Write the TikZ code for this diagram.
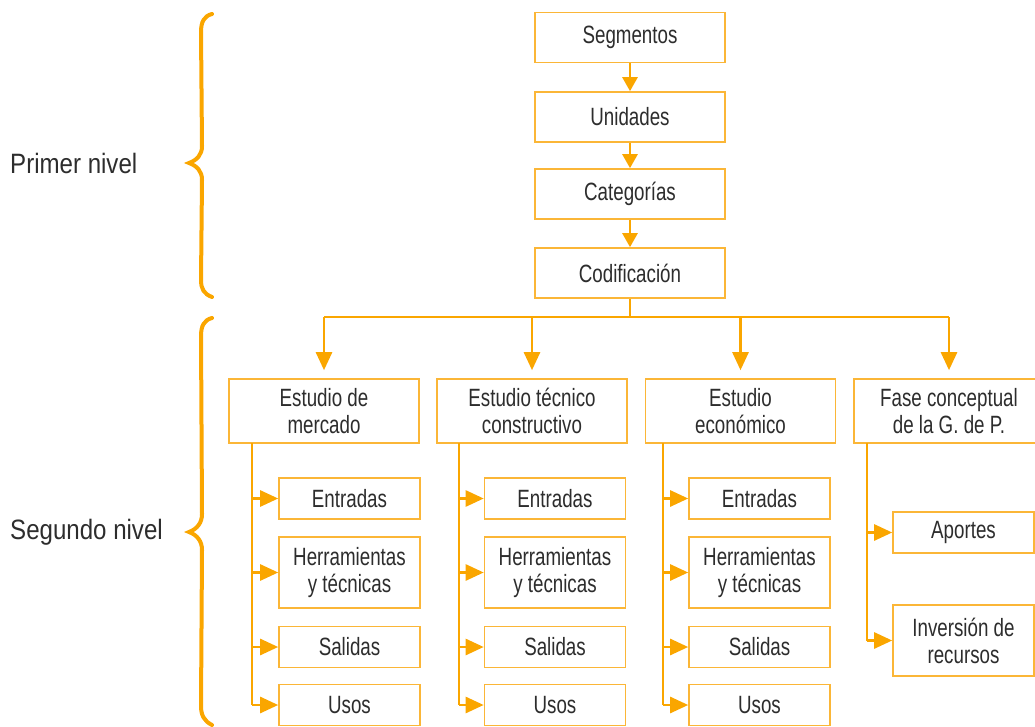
\documentclass[tikz,border=0pt]{standalone}
\usepackage{fontspec}
\setmainfont[FakeStretch=0.75]{Liberation Sans}
\newfontfamily\sidefont[FakeStretch=0.86]{Liberation Sans}
\usetikzlibrary{arrows.meta}
\definecolor{org}{RGB}{250,166,0}
\definecolor{boxorg}{RGB}{251,182,55}
\definecolor{txt}{RGB}{45,45,45}
\begin{document}
\begin{tikzpicture}[x=1pt,y=-1pt,
  basebox/.style={draw=boxorg, line width=1.6pt, fill=white, text=txt, align=center,
    font=\fontsize{25}{27}\selectfont, inner sep=0pt},
  topbox/.style={basebox, minimum width=190pt, minimum height=50pt},
  rowbox/.style={basebox, minimum width=190pt, minimum height=64pt},
  subbox/.style={basebox, minimum width=141pt, minimum height=41pt},
  subtall/.style={basebox, minimum width=141pt, minimum height=71pt},
  conn/.style={draw=org, line width=2.6pt},
  varr/.style={-{Triangle[length=14pt,width=15pt]}},
  darr/.style={-{Triangle[length=18pt,width=16pt]}, shorten >=8pt},
  harr/.style={-{Triangle[length=18pt,width=16pt]}},
  brace/.style={draw=org, line width=4pt, line cap=round},
  side/.style={anchor=west, inner sep=0pt, text=txt, font=\sidefont\fontsize{28}{32}\selectfont}
]
\clip (0,0) rectangle (1035,727);

% side labels
\node[side] (l1) at (10,163) {Primer nivel};
\node[side] (l2) at (10,532) {Segundo nivel};

% braces
\draw[brace] (212,14) .. controls (204,16) and (201,22) .. (201,32) -- (202,146)
  .. controls (202,155) and (197,160) .. (189,163)
  .. controls (197,166) and (202,171) .. (202,180) -- (201,280)
  .. controls (201,289) and (204,294) .. (212,297);
\draw[brace] (212,318) .. controls (204,320) and (201,326) .. (201,336) -- (202,514)
  .. controls (202,523) and (197,529) .. (189,532)
  .. controls (197,535) and (202,541) .. (202,550) -- (201,706)
  .. controls (201,715) and (204,721) .. (212,725);

% top chain
\node[topbox] (seg) at (630,37.5) {Segmentos};
\node[topbox] (uni) at (630,117) {Unidades};
\node[topbox] (cat) at (630,194) {Categorías};
\node[topbox] (cod) at (630,273) {Codificación};
\draw[conn,varr] (seg) -- (uni);
\draw[conn,varr] (uni) -- (cat);
\draw[conn,varr] (cat) -- (cod);

% second row
\node[rowbox] (r1) at (324,411) {Estudio de\\mercado};
\node[rowbox] (r2) at (532,411) {Estudio técnico\\constructivo};
\node[rowbox] (r3) at (740.5,411) {Estudio\\económico};
\node[rowbox] (r4) at (949,411) {Fase conceptual\\de la G. de P.};

\coordinate (bar) at (630,317);
\draw[conn] (cod.south) -- (bar);
\draw[conn] (r1.north |- bar) -- (r4.north |- bar);
\foreach \i in {1,2,3,4} \draw[conn,darr] (r\i.north |- bar) -- (r\i.north);

% sub boxes, columns 1-3
\foreach \i/\lx/\bx in {1/252/349.5, 2/459/555, 3/663/759.5} {
  \node[subbox] (e\i) at (\bx,498.5) {Entradas};
  \node[subtall] (h\i) at (\bx,572.5) {Herramientas\\y técnicas};
  \node[subbox] (s\i) at (\bx,647) {Salidas};
  \node[subbox] (u\i) at (\bx,705) {Usos};
  \coordinate (v\i) at (\lx,443);
  \draw[conn] (v\i) -- (v\i |- u\i.west);
  \foreach \n in {e,h,s,u} \draw[conn,harr] (v\i |- \n\i.west) -- (\n\i.west);
}

% column 4
\node[subbox] (ap) at (963.5,532.5) {Aportes};
\node[subtall] (inv) at (963.5,640.5) {Inversión de\\recursos};
\coordinate (v4) at (867,443);
\draw[conn] (v4) -- (v4 |- inv.west);
\draw[conn,harr] (v4 |- ap.west) -- (ap.west);
\draw[conn,harr] (v4 |- inv.west) -- (inv.west);
\end{tikzpicture}
\end{document}
